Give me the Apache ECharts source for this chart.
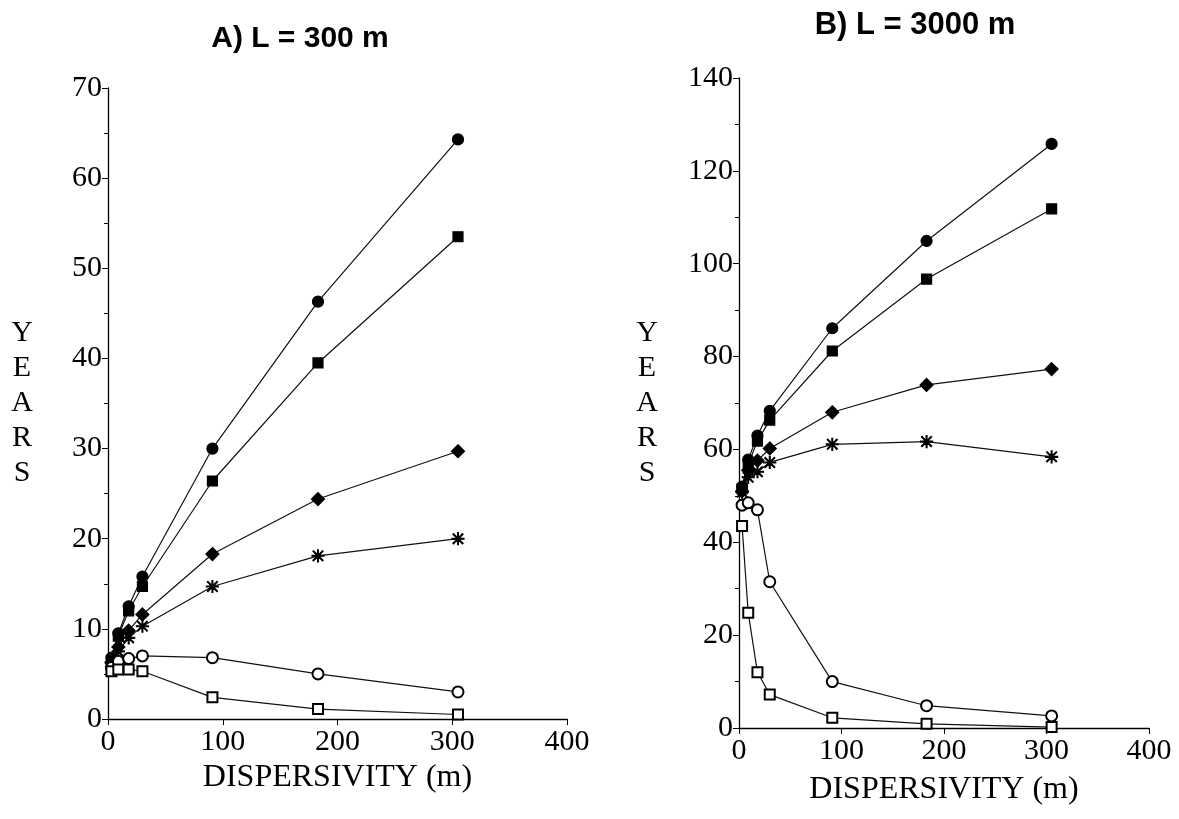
<!DOCTYPE html>
<html>
<head>
<meta charset="utf-8">
<script src="https://cdn.jsdelivr.net/npm/echarts@6/dist/echarts.min.js"></script>
<style>
  html, body { margin: 0; padding: 0; background: #fff; }
  #chart { width: 1179px; height: 819px; }
</style>
</head>
<body>
<div id="chart"></div>
<script>
// dispersivity (m), same for both panels
const dispersivity = [3, 9, 18, 30, 91, 183, 305]

// A) L = 300 m
const a_circle = [6.8, 9.5, 12.5, 15.8, 30.0, 46.3, 64.3]
const a_square = [6.5, 9.2, 12.0, 14.7, 26.4, 39.5, 53.5]
const a_diamond = [6.3, 8.0, 9.8, 11.6, 18.3, 24.4, 29.7]
const a_star = [6.2, 7.5, 9.0, 10.3, 14.7, 18.1, 20.0]
const a_openCircle = [5.7, 6.4, 6.7, 7.0, 6.8, 5.0, 3.0]
const a_openSquare = [5.3, 5.5, 5.5, 5.3, 2.4, 1.1, 0.5]

// B) L = 3000 m
const b_circle = [52.0, 57.8, 63.0, 68.3, 86.1, 104.9, 125.8]
const b_square = [51.5, 56.8, 61.8, 66.3, 81.2, 96.7, 111.8]
const b_diamond = [51.0, 55.5, 57.6, 60.2, 68.0, 73.9, 77.3]
const b_star = [50.8, 54.0, 55.2, 57.2, 61.1, 61.7, 58.4]
const b_openCircle = [48.0, 48.5, 47.0, 31.5, 10.0, 4.8, 2.6]
const b_openSquare = [43.5, 24.8, 12.0, 7.2, 2.2, 0.9, 0.2]

const titles = ["A) L = 300 m", "B) L = 3000 m"]

// asterisk marker made of four thin bars
const starPath = "path://M9.3 0L10.7 0L10.7 20L9.3 20Z M0 9.3L20 9.3L20 10.7L0 10.7Z " +
  "M2.5 1.5L18.5 17.5L17.5 18.5L1.5 2.5Z M17.5 1.5L18.5 2.5L2.5 18.5L1.5 17.5Z"

const serif = "'Liberation Serif', 'DejaVu Serif', serif"
const sans = "'Liberation Sans', Arial, sans-serif"

const zip = vals => dispersivity.map((x, i) => [x, vals[i]])

const makeSeries = (idx, vals, symbol, size) => ({
  type: "line",
  xAxisIndex: idx,
  yAxisIndex: idx,
  data: zip(vals),
  symbol: symbol,
  symbolSize: size,
  showAllSymbol: true,
  lineStyle: { color: "#111", width: 1.2 },
  itemStyle: { color: "#000", borderColor: "#000", borderWidth: 1.2 },
  z: 3,
  animation: false
})

const xAxisBase = idx => ({
  gridIndex: idx,
  type: "value",
  min: 0,
  max: 400,
  interval: 100,
  name: "DISPERSIVITY (m)",
  nameLocation: "middle",
  nameGap: idx === 0 ? 38 : 46,
  nameTextStyle: { fontFamily: serif, fontSize: 32, color: "#000" },
  axisLine: { show: true, onZero: false, lineStyle: { color: "#000", width: 1.3 } },
  axisTick: { show: true, length: 6, lineStyle: { color: "#000" } },
  axisLabel: { fontFamily: serif, fontSize: 30, color: "#000", margin: 8 },
  splitLine: { show: false }
})

const yAxisBase = (idx, max, interval, gap) => ({
  gridIndex: idx,
  type: "value",
  min: 0,
  max: max,
  interval: interval,
  name: "Y\nE\nA\nR\nS",
  nameLocation: "middle",
  nameRotate: 0,
  nameGap: gap,
  nameTextStyle: { fontFamily: serif, fontSize: 30, color: "#000", lineHeight: 35, align: "center" },
  axisLine: { show: true, lineStyle: { color: "#000", width: 1.3 } },
  axisTick: { show: true, length: 6, lineStyle: { color: "#000" } },
  minorTick: { show: true, splitNumber: 2, length: 4, lineStyle: { color: "#000" } },
  axisLabel: { fontFamily: serif, fontSize: 30, color: "#000", margin: 6 },
  splitLine: { show: false }
})

const chart = echarts.init(document.getElementById("chart"))
chart.setOption({
  backgroundColor: "#fff",
  animation: false,
  title: [
    {
      text: titles[0], left: 295, top: 19, textAlign: "center",
      textStyle: { fontFamily: sans, fontWeight: "bold", fontSize: 30, color: "#000" }
    },
    {
      text: titles[1], left: 910, top: 5, textAlign: "center",
      textStyle: { fontFamily: sans, fontWeight: "bold", fontSize: 31, color: "#000" }
    }
  ],
  grid: [
    { left: 108, right: 612, top: 88, bottom: 100 },
    { left: 739, right: 30, top: 78, bottom: 91 }
  ],
  xAxis: [xAxisBase(0), xAxisBase(1)],
  yAxis: [yAxisBase(0, 70, 10, 86), yAxisBase(1, 140, 20, 92)],
  series: [
    makeSeries(0, a_circle, "circle", 11),
    makeSeries(0, a_square, "rect", 10),
    makeSeries(0, a_diamond, "diamond", 13),
    makeSeries(0, a_star, starPath, 12),
    makeSeries(0, a_openCircle, "emptyCircle", 11),
    makeSeries(0, a_openSquare, "emptyRect", 10),
    makeSeries(1, b_circle, "circle", 11),
    makeSeries(1, b_square, "rect", 10),
    makeSeries(1, b_diamond, "diamond", 13),
    makeSeries(1, b_star, starPath, 12),
    makeSeries(1, b_openCircle, "emptyCircle", 11),
    makeSeries(1, b_openSquare, "emptyRect", 10)
  ]
})
</script>
</body>
</html>
